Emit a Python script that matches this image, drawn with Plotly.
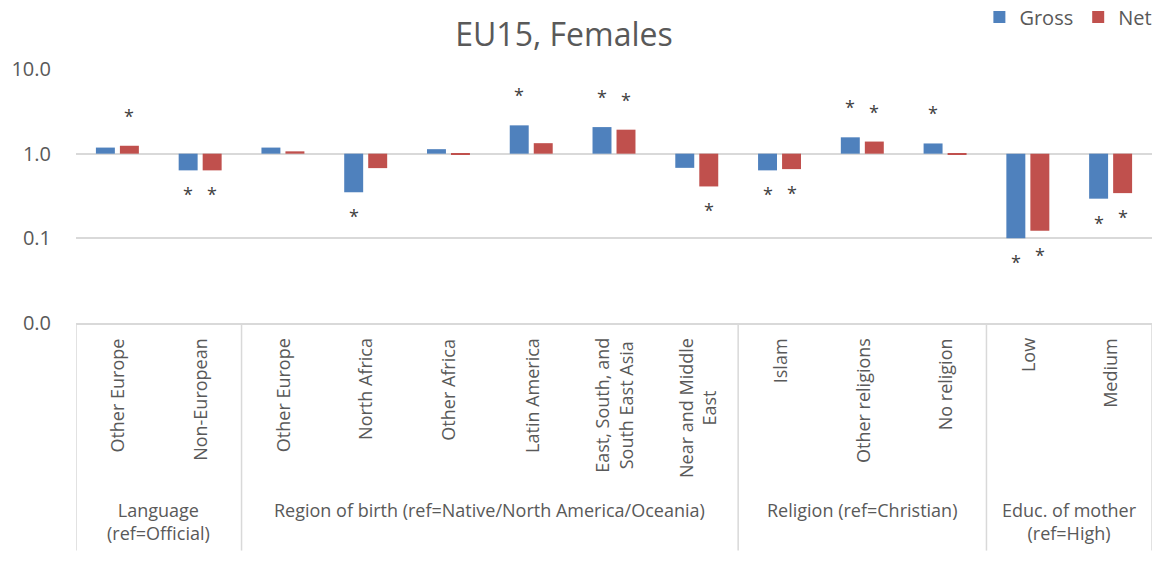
import math
import plotly.graph_objects as go

# categories (inner labels), groups and values
categories = ["Other Europe", "Non-European", "Other Europe", "North Africa", "Other Africa",
              "Latin America", "East, South, and<br>South East Asia", "Near and Middle<br>East",
              "Islam", "Other religions", "No religion", "Low", "Medium"]
group_labels = ["Language<br>(ref=Official)",
                "Region of birth (ref=Native/North America/Oceania)",
                "Religion (ref=Christian)",
                "Educ. of mother<br>(ref=High)"]
group_sizes = [2, 6, 3, 2]

gross = [1.18, 0.635, 1.18, 0.35, 1.13, 2.16, 2.06, 0.68, 0.635, 1.56, 1.32, 0.10, 0.294]
net = [1.24, 0.635, 1.065, 0.675, 0.97, 1.33, 1.92, 0.41, 0.657, 1.39, 0.97, 0.123, 0.342]
gross_sig = [0, 1, 0, 1, 0, 1, 1, 0, 1, 1, 1, 1, 1]
net_sig = [1, 1, 0, 0, 0, 0, 1, 1, 1, 1, 0, 1, 1]

ytick_vals = [0.01, 0.1, 1, 10]
ytick_text = ["0.0", "0.1", "1.0", "10.0"]

BLUE = "#4F81BD"
RED = "#C0504D"
GRID = "#D9D9D9"
TEXT = "#595959"
FONT = "Open Sans"

xs = list(range(len(categories)))

fig = go.Figure()
fig.add_trace(go.Bar(x=xs, y=[v - 1 for v in gross], base=1, name="Gross",
                     marker=dict(color=BLUE, line=dict(width=0))))
fig.add_trace(go.Bar(x=xs, y=[v - 1 for v in net], base=1, name="Net",
                     marker=dict(color=RED, line=dict(width=0))))

annotations = []
# significance stars
for vals, sig, dx in [(gross, gross_sig, -12), (net, net_sig, 12)]:
    for i, (v, s) in enumerate(zip(vals, sig)):
        if not s:
            continue
        annotations.append(dict(
            x=i, y=math.log10(v), xref="x", yref="y", text="*", showarrow=False,
            xshift=dx, yshift=30 if v >= 1 else -24,
            font=dict(family=FONT, size=18, color="#404040")))

# rotated category labels
for i, lab in enumerate(categories):
    annotations.append(dict(
        x=i, y=-0.052, xref="x", yref="paper", text=lab, showarrow=False,
        textangle=-90, yanchor="top", xanchor="center", align="center",
        font=dict(family=FONT, size=18, color=TEXT)))

# group labels and dividers
shapes = []
start = 0
bounds = [-0.5]
for lab, n in zip(group_labels, group_sizes):
    mid = start + (n - 1) / 2
    annotations.append(dict(
        x=mid, y=-0.683, xref="x", yref="paper", text=lab, showarrow=False,
        yanchor="top", xanchor="center", align="center",
        font=dict(family=FONT, size=18, color=TEXT)))
    start += n
    bounds.append(start - 0.5)
for b in bounds:
    shapes.append(dict(type="line", xref="x", yref="paper", x0=b, x1=b, y0=0, y1=-0.896,
                       line=dict(color=GRID, width=1.5), layer="below"))

fig.update_layout(
    title=dict(text="EU15, Females", x=0.4866, xref="container", xanchor="center",
               y=1 - 35 / 562, yref="container", yanchor="middle",
               font=dict(family=FONT, size=32, color=TEXT)),
    width=1159, height=562,
    margin=dict(l=76, r=7, t=69, b=239, autoexpand=False),
    paper_bgcolor="white", plot_bgcolor="white",
    barmode="group", bargap=0.42, bargroupgap=0.21,
    showlegend=True,
    legend=dict(orientation="h", x=1.005, xanchor="right", y=1.205, yanchor="middle",
                font=dict(family=FONT, size=20, color=TEXT), traceorder="normal",
                itemwidth=30, tracegroupgap=0),
    xaxis=dict(range=[-0.5, 12.5], showticklabels=False, showgrid=False, zeroline=False,
               showline=True, linecolor=GRID, linewidth=1.5),
    yaxis=dict(type="log", range=[-2, 1], tickvals=ytick_vals, ticktext=ytick_text,
               showgrid=True, gridcolor=GRID, gridwidth=1.5, zeroline=False,
               ticks="outside", ticklen=20, tickcolor="rgba(0,0,0,0)",
               tickfont=dict(family=FONT, size=20, color=TEXT)),
    annotations=annotations,
    shapes=shapes,
    font=dict(family=FONT, color=TEXT),
)

fig.write_html("out.html", config={"displayModeBar": False},
               post_script="document.body.style.margin='0';")
